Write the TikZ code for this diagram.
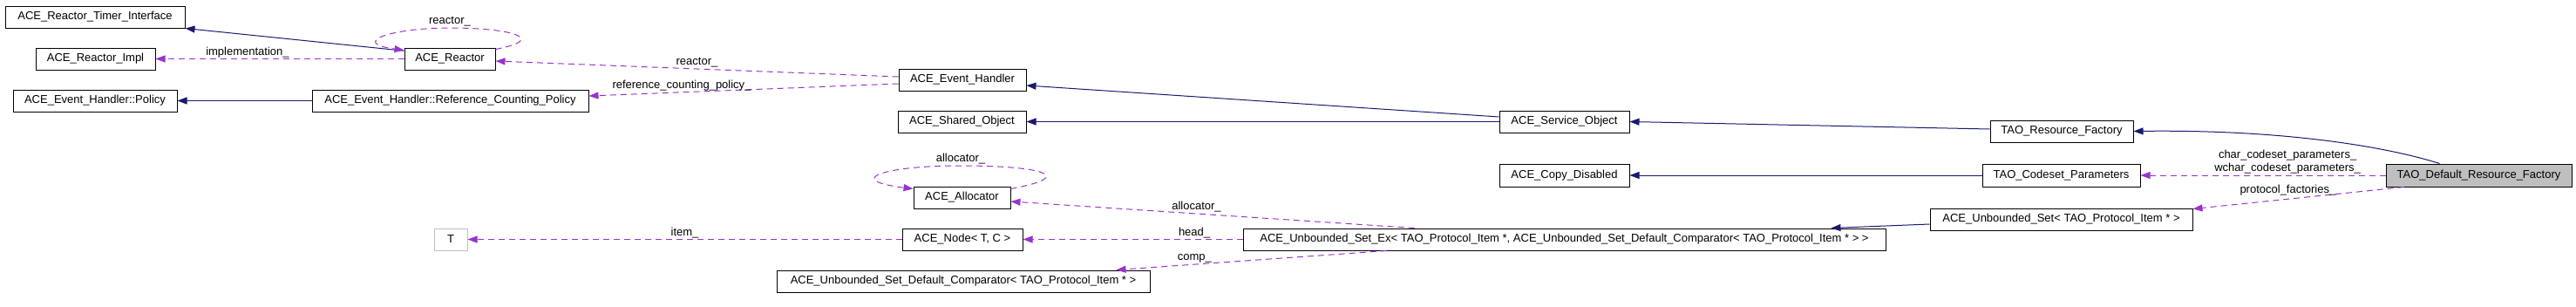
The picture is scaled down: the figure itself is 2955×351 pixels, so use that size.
\documentclass[tikz,border=0pt]{standalone}
\usepackage{fontspec}
\setmainfont{Liberation Sans}
\usepackage{tikz}
\usetikzlibrary{arrows.meta, calc}
\definecolor{inhblue}{HTML}{191970}
\definecolor{usepurple}{HTML}{9A32CD}
\definecolor{boxgray}{HTML}{BFBFBF}
\tikzset{cls/.style={draw, line width=1pt, minimum height=25pt, inner sep=0pt, font=\fontsize{13}{15}\selectfont},
inh/.style={draw=inhblue, line width=1pt, -{Triangle[length=11pt,width=8pt,fill=inhblue]}},
use/.style={draw=usepurple, line width=1pt, dash pattern=on 7pt off 5pt, -{Triangle[length=11pt,width=8pt,fill=usepurple]}},
lbl/.style={font=\fontsize{13}{15}\selectfont, inner sep=1pt, text=black}}

\begin{document}
\begin{tikzpicture}[x=1pt,y=-1pt]
\useasboundingbox (0,0) rectangle (2955,351);
\node[cls, minimum width=206] (timer) at (109,19.5) {ACE\_Reactor\_Timer\_Interface};
\node[cls, minimum width=137] (impl) at (109.5,67.5) {ACE\_Reactor\_Impl};
\node[cls, minimum width=104] (reactor) at (516,67.5) {ACE\_Reactor};
\node[cls, minimum width=188] (policy) at (109,115.5) {ACE\_Event\_Handler::Policy};
\node[cls, minimum width=317] (refpol) at (516.5,115.5) {ACE\_Event\_Handler::Reference\_Counting\_Policy};
\node[cls, minimum width=146] (handler) at (1104,91.5) {ACE\_Event\_Handler};
\node[cls, minimum width=147] (shared) at (1103.5,139.5) {ACE\_Shared\_Object};
\node[cls, minimum width=111] (allocator) at (1103.5,226.5) {ACE\_Allocator};
\node[cls, minimum width=138] (node) at (1104,274.5) {ACE\_Node< T, C >};
\node[cls, draw=boxgray, minimum width=38] (tparam) at (517,274.5) {T};
\node[cls, minimum width=428] (comparator) at (1105,322.5) {ACE\_Unbounded\_Set\_Default\_Comparator< TAO\_Protocol\_Item * >};
\node[cls, minimum width=149] (service) at (1794.5,139.5) {ACE\_Service\_Object};
\node[cls, minimum width=149, minimum height=26] (copydis) at (1794.5,201) {ACE\_Copy\_Disabled};
\node[cls, minimum width=737] (setex) at (1794.5,274.5) {ACE\_Unbounded\_Set\_Ex< TAO\_Protocol\_Item *, ACE\_Unbounded\_Set\_Default\_Comparator< TAO\_Protocol\_Item * > >};
\node[cls, minimum width=164] (resfac) at (2365,150.5) {TAO\_Resource\_Factory};
\node[cls, minimum width=181, minimum height=26] (codeset) at (2364.5,201) {TAO\_Codeset\_Parameters};
\node[cls, minimum width=301] (uset) at (2364.5,251.5) {ACE\_Unbounded\_Set< TAO\_Protocol\_Item * >};
\node[cls, fill=boxgray, minimum width=213, minimum height=26] (deffac) at (2843.5,201) {TAO\_Default\_Resource\_Factory};

\draw[inh] (reactor.170) -- (timer.south east);
\draw[inh] (refpol.west) -- (policy.east);
\draw[inh] ($(service.west)+(0,-5.5)$) -- ($(handler.east)+(0,6.5)$);
\draw[inh] (service.west) -- (shared.east);
\draw[inh] ($(resfac.west)+(0,-2.5)$) -- (service.east);
\draw[inh] ($(deffac.north)+(-45,0)$) .. controls +(-70,-22) and +(160,-2) .. (resfac.east);
\draw[inh] (codeset.west) -- (copydis.east);
\draw[inh] ($(uset.west)+(0,5.5)$) -- ($(setex.north east)+(-63,0)$);

\draw[use] (reactor.west) -- node[lbl, pos=0.63, above] {implementation\_} (impl.east);
\draw[use] ($(reactor.north east)+(0,2)$) .. controls +(62,-12) and +(70,0) .. (516,32) node[lbl, above] {reactor\_} .. controls +(-70,0) and +(-62,-8) .. ($(reactor.north west)+(0,3)$);
\draw[use] ($(handler.west)+(0,-3.5)$) -- node[lbl, midway, above] {reactor\_} ($(reactor.east)+(0,2.5)$);
\draw[use] ($(handler.west)+(0,4.5)$) -- node[lbl, pos=0.7, above] {reference\_counting\_policy\_} ($(refpol.east)+(0,-5.5)$);
\draw[use] ($(allocator.north east)+(0,3)$) .. controls +(80,-15) and +(90,0) .. (1102,190) node[lbl, above] {allocator\_} .. controls +(-90,0) and +(-80,-10) .. ($(allocator.north west)+(0,3)$);
\draw[use] (node.west) -- node[lbl, midway, above] {item\_} (tparam.east);
\draw[use] ($(setex.north west)+(197,0)$) -- node[lbl, pos=0.54, above] {allocator\_} ($(allocator.east)+(0,4.5)$);
\draw[use] (setex.west) -- node[lbl, pos=0.22, above] {head\_} (node.east);
\draw[use] ($(setex.south west)+(165,0)$) -- node[lbl, pos=0.71, above] {comp\_} ($(comparator.north east)+(-39,0)$);
\draw[use] (deffac.west) -- node[lbl, pos=0.4, above, align=center] {char\_codeset\_parameters\_\\wchar\_codeset\_parameters\_} (codeset.east);
\draw[use] ($(deffac.south west)+(21,0)$) -- node[lbl, pos=0.55, above, yshift=3] {protocol\_factories\_} ($(uset.north east)+(0,1)$);
\end{tikzpicture}
\end{document}
